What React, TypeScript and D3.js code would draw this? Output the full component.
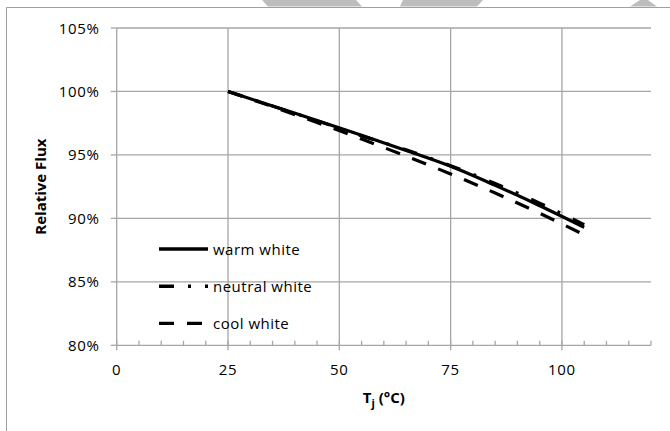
import React, { useEffect, useRef } from 'react';
import * as d3 from 'd3';

// junction temperature readings (°C)
const temps = [25, 35, 45, 55, 65, 75, 85, 95, 105];
// relative flux (%) per series
const warmWhite = [100, 98.85, 97.72, 96.55, 95.35, 94.1, 92.6, 91.0, 89.3];
const neutralWhite = [100, 98.85, 97.7, 96.5, 95.4, 94.15, 92.75, 91.2, 89.5];
const coolWhite = [100, 98.8, 97.55, 96.25, 94.9, 93.5, 92.0, 90.4, 88.7];

const seriesNames = ['warm white', 'neutral white', 'cool white'];
const dashes = ['none', '15,14,3,14', '15,13'];

const yTicks = [80, 85, 90, 95, 100, 105];
const xTicks = [0, 25, 50, 75, 100];
const xMinorStep = 5;

const W = 670;
const H = 431;
const FONT = "'Open Sans', sans-serif";

export default function App() {
  const svgRef = useRef<SVGSVGElement>(null);

  useEffect(() => {
    if (!svgRef.current) return;
    const svg = d3.select(svgRef.current);
    svg.selectAll('*').remove();

    const grid = '#a6a6a6';
    const left = 116.7, right = 651, top = 28, bottom = 345.3;

    const x = d3.scaleLinear().domain([0, 120]).range([left, right]);
    const y = d3.scaleLinear().domain([80, 105]).range([bottom, top]);

    svg.append('rect').attr('width', W).attr('height', H).attr('fill', '#fff');

    // watermark scraps along the top edge
    const scraps = [
      [[262, 0], [356, 0], [362, 6.5], [268, 6.5]],
      [[403, 0], [483, 0], [477, 6.5], [400, 6.5]],
      [[640, 0], [648, 0], [657, 6.5], [630, 6.5]],
    ];
    svg.selectAll('.scrap').data(scraps).enter().append('polygon')
      .attr('points', d => d.map(p => p.join(',')).join(' '))
      .attr('fill', '#bdbdbd');

    // chart frame
    svg.append('path')
      .attr('d', `M6.5,${H} L6.5,7.5 L${W},7.5`)
      .attr('fill', 'none')
      .attr('stroke', '#a0a0a0')
      .attr('stroke-width', 1);

    // horizontal grid
    svg.selectAll('.hgrid').data(yTicks.filter(t => t > 80)).enter().append('line')
      .attr('x1', left).attr('x2', right)
      .attr('y1', d => y(d)).attr('y2', d => y(d))
      .attr('stroke', grid).attr('stroke-width', 1.3);

    // vertical grid
    svg.selectAll('.vgrid').data(xTicks.filter(t => t > 0)).enter().append('line')
      .attr('x1', d => x(d)).attr('x2', d => x(d))
      .attr('y1', top).attr('y2', bottom)
      .attr('stroke', grid).attr('stroke-width', 1.3);

    // axes
    svg.append('line').attr('x1', left).attr('x2', left).attr('y1', top).attr('y2', bottom)
      .attr('stroke', grid).attr('stroke-width', 1.3);
    svg.append('line').attr('x1', left).attr('x2', right).attr('y1', bottom).attr('y2', bottom)
      .attr('stroke', grid).attr('stroke-width', 1.3);

    // y ticks + labels
    svg.selectAll('.ytick').data(yTicks).enter().append('line')
      .attr('x1', left - 6).attr('x2', left)
      .attr('y1', d => y(d)).attr('y2', d => y(d))
      .attr('stroke', grid).attr('stroke-width', 1.3);
    svg.selectAll('.ylab').data(yTicks).enter().append('text')
      .attr('x', left - 17).attr('y', d => y(d) + 5.5)
      .attr('text-anchor', 'end')
      .attr('font-family', FONT).attr('font-size', 15).attr('letter-spacing', 0.7)
      .attr('fill', '#000')
      .text(d => `${d}%`);

    // x ticks: minor inside, major crossing
    const minor = d3.range(0, 120 + xMinorStep, xMinorStep).filter(v => v % 25 !== 0);
    svg.selectAll('.xminor').data(minor).enter().append('line')
      .attr('x1', d => x(d)).attr('x2', d => x(d))
      .attr('y1', bottom - 4.5).attr('y2', bottom)
      .attr('stroke', grid).attr('stroke-width', 1.3);
    svg.selectAll('.xmajor').data(xTicks).enter().append('line')
      .attr('x1', d => x(d)).attr('x2', d => x(d))
      .attr('y1', bottom - 4.5).attr('y2', bottom + 5)
      .attr('stroke', grid).attr('stroke-width', 1.3);
    svg.selectAll('.xlab').data(xTicks).enter().append('text')
      .attr('x', d => x(d)).attr('y', bottom + 30)
      .attr('text-anchor', 'middle')
      .attr('font-family', FONT).attr('font-size', 15).attr('letter-spacing', 0.7)
      .attr('fill', '#000')
      .text(d => d);

    // axis titles
    const xt = svg.append('text')
      .attr('x', (left + right) / 2).attr('y', 403)
      .attr('text-anchor', 'middle')
      .attr('font-family', FONT).attr('font-size', 15).attr('font-weight', 700)
      .attr('fill', '#000');
    xt.append('tspan').text('T');
    xt.append('tspan').attr('font-size', 11).attr('dy', 4).text('j');
    xt.append('tspan').attr('dy', -4).text(' (°C)');

    svg.append('text')
      .attr('transform', `translate(46,${(top + bottom) / 2}) rotate(-90)`)
      .attr('text-anchor', 'middle')
      .attr('font-family', FONT).attr('font-size', 15).attr('font-weight', 700)
      .attr('fill', '#000')
      .text('Relative Flux');

    // series
    const all = [warmWhite, neutralWhite, coolWhite];
    const line = d3.line<number>()
      .x((_, i) => x(temps[i]))
      .y(d => y(d))
      .curve(d3.curveMonotoneX);

    all.forEach((vals, i) => {
      svg.append('path')
        .datum(vals)
        .attr('fill', 'none')
        .attr('stroke', '#000')
        .attr('stroke-width', 3.2)
        .attr('stroke-dasharray', dashes[i])
        .attr('d', line);
    });

    // legend
    const lg = svg.append('g');
    seriesNames.forEach((name, i) => {
      const ly = 249 + i * 37.2;
      lg.append('line')
        .attr('x1', 159).attr('x2', 208).attr('y1', ly).attr('y2', ly)
        .attr('stroke', '#000').attr('stroke-width', 3.4)
        .attr('stroke-dasharray', dashes[i]);
      lg.append('text')
        .attr('x', 213).attr('y', ly + 5.5)
        .attr('font-family', FONT).attr('font-size', 15).attr('letter-spacing', 0.5)
        .attr('fill', '#000')
        .text(name);
    });
  }, []);

  return (
    <svg
      ref={svgRef}
      width={W}
      height={H}
      viewBox={`0 0 ${W} ${H}`}
      style={{ position: 'absolute', left: 0, top: 0, display: 'block' }}
    />
  );
}
